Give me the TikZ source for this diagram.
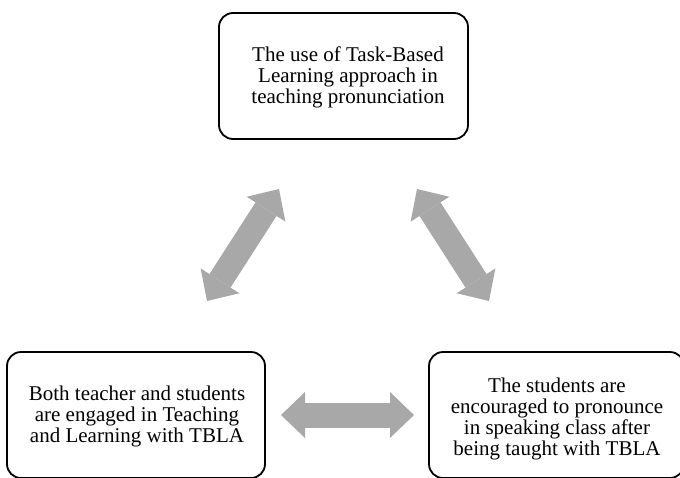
\documentclass[tikz,border=0pt]{standalone}
\usepackage{fontspec}
\setmainfont{Liberation Serif}
\usetikzlibrary{arrows.meta}
\definecolor{ink}{HTML}{000000}
\definecolor{arrowGray}{HTML}{A8A8A8}
\tikzset{
    stagebox/.style={
        draw=ink,
        fill=white,
        line width=1.8pt,
        rounded corners=14pt,
        inner sep=0pt
    },
    stagetext/.style={
        font=\fontsize{21}{21}\selectfont,
        text=ink,
        align=center
    },
    bigarrow/.style={
        draw=arrowGray,
        line width=25pt,
        {Triangle[width=46pt,length=24pt,line width=0pt]}-{Triangle[width=46pt,length=24pt,line width=0pt]}
    }
}

\begin{document}
\begin{tikzpicture}[x=1pt,y=-1pt]
    \useasboundingbox (0,0) rectangle (680,477);

    % Stage boxes
    \draw[stagebox] (219,13) rectangle (468,139);
    \node[stagetext] (usetbl) at (348,77)
        {The use of Task-Based\\Learning approach in\\teaching pronunciation};

    \draw[stagebox] (7,352) rectangle (265,478);
    \node[stagetext] (engaged) at (137,416)
        {Both teacher and students\\are engaged in Teaching\\and Learning with TBLA};

    \draw[stagebox] (429,352) rectangle (684,478);
    \node[stagetext] (encouraged) at (557,419)
        {The students are\\encouraged to pronounce\\in speaking class after\\being taught with TBLA};

    % Arrow ends
    \coordinate (left-top) at (279,189);
    \coordinate (left-bot) at (207,301);
    \coordinate (right-top) at (417,189);
    \coordinate (right-bot) at (489,301);
    \coordinate (mid-left) at (281,415);
    \coordinate (mid-right) at (414,415);

    % Two-way arrows
    \draw[bigarrow] (left-bot) -- (left-top);
    \draw[bigarrow] (right-top) -- (right-bot);
    \draw[bigarrow] (mid-left) -- (mid-right);

\end{tikzpicture}
\end{document}
